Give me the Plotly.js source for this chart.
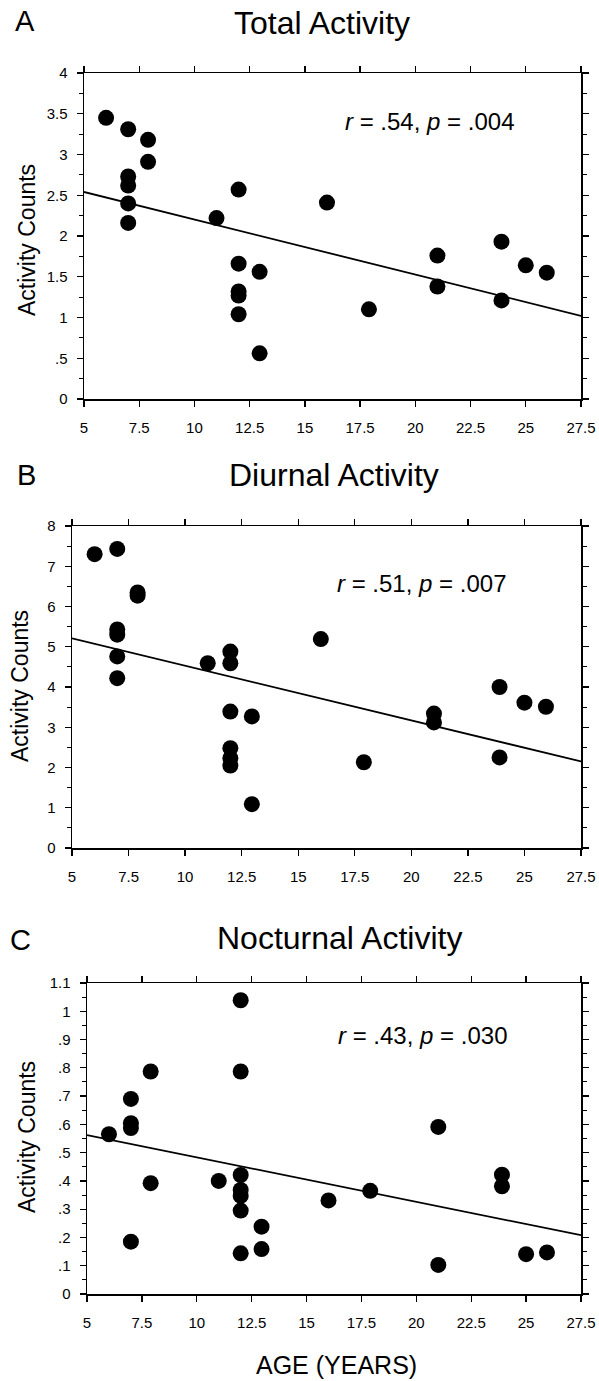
<!DOCTYPE html>
<html>
<head>
<meta charset="utf-8">
<script src="https://cdn.plot.ly/plotly-3.0.1.min.js"></script>
<style>
  html, body { margin: 0; padding: 0; background: #fff; }
  #chart { width: 599px; height: 1381px; }
</style>
</head>
<body>
<div id="chart"></div>
<script>
// ---------- data ----------
const agesA = [6, 7, 7, 7, 7, 7, 7.9, 7.9, 11, 12, 12, 12, 12, 12, 12.95, 12.95, 16, 17.9, 21, 21, 23.9, 23.9, 25, 25.95];
const totalActivity = [3.45, 3.31, 2.73, 2.62, 2.40, 2.16, 3.18, 2.91, 2.22, 2.57, 1.66, 1.32, 1.27, 1.04, 1.56, 0.56, 2.41, 1.10, 1.76, 1.38, 1.93, 1.21, 1.64, 1.55];

const agesB = [6, 7, 7, 7, 7, 7, 7.9, 7.9, 11, 12, 12, 12, 12, 12, 12, 12.95, 12.95, 16, 17.9, 21, 21, 23.9, 23.9, 25, 25.95];
const diurnalActivity = [7.30, 7.43, 5.43, 5.30, 4.76, 4.22, 6.35, 6.27, 4.59, 4.88, 4.59, 3.39, 2.48, 2.23, 2.05, 3.27, 1.09, 5.19, 2.13, 3.34, 3.12, 4.00, 2.25, 3.61, 3.51];

const agesC = [6, 7, 7, 7, 7, 7.9, 7.9, 11, 12, 12, 12, 12, 12, 12, 12, 12.95, 12.95, 16, 17.9, 21, 21, 23.9, 23.9, 25, 25.95];
const nocturnalActivity = [0.565, 0.69, 0.604, 0.587, 0.185, 0.787, 0.392, 0.40, 1.039, 0.787, 0.421, 0.368, 0.347, 0.295, 0.144, 0.238, 0.159, 0.331, 0.365, 0.591, 0.103, 0.422, 0.381, 0.141, 0.147];

// regression line end points (read at x = 5 and x = 27.5)
const fitX = [5, 27.5];
const fitA = [2.54, 1.02];
const fitB = [5.21, 2.15];
const fitC = [0.562, 0.208];

const panelTitles = ['Total Activity', 'Diurnal Activity', 'Nocturnal Activity'];
const panelLetters = ['A', 'B', 'C'];
const statsText = ['<i>r</i> = .54, <i>p</i> = .004', '<i>r</i> = .51, <i>p</i> = .007', '<i>r</i> = .43, <i>p</i> = .030'];

const xTickVals = [5, 7.5, 10, 12.5, 15, 17.5, 20, 22.5, 25, 27.5];
const xTickText = ['5', '7.5', '10', '12.5', '15', '17.5', '20', '22.5', '25', '27.5'];
const yTickValsA = [0, 0.5, 1, 1.5, 2, 2.5, 3, 3.5, 4];
const yTickTextA = ['0', '.5', '1', '1.5', '2', '2.5', '3', '3.5', '4'];
const yTickValsB = [0, 1, 2, 3, 4, 5, 6, 7, 8];
const yTickTextB = ['0', '1', '2', '3', '4', '5', '6', '7', '8'];
const yTickValsC = [0, 0.1, 0.2, 0.3, 0.4, 0.5, 0.6, 0.7, 0.8, 0.9, 1, 1.1];
const yTickTextC = ['0', '.1', '.2', '.3', '.4', '.5', '.6', '.7', '.8', '.9', '1', '1.1'];

// ---------- layout helpers (pixels -> paper) ----------
const W = 599, H = 1381;
const px = v => v / W;
const py = v => 1 - v / H;
const FONT = '"Liberation Sans", Arial, Helvetica, sans-serif';

function xAxis(left, right, anchor) {
  return {
    domain: [px(left), px(right)], anchor: anchor,
    range: [5, 27.5], tickmode: 'array', tickvals: xTickVals, ticktext: xTickText,
    showline: true, linecolor: '#000', linewidth: 1.5, mirror: 'ticks',
    ticks: 'outside', ticklen: 6, tickwidth: 1.3, tickcolor: '#000',
    ticklabelstandoff: 8,
    showgrid: false, zeroline: false, fixedrange: true,
    tickfont: { family: FONT, size: 15, color: '#000' }
  };
}
function yAxis(top, bottom, anchor, range, vals, text, minorStep) {
  return {
    domain: [py(bottom), py(top)], anchor: anchor,
    range: range, tickmode: 'array', tickvals: vals, ticktext: text,
    showline: true, linecolor: '#000', linewidth: 1.5, mirror: 'ticks',
    ticks: 'outside', ticklen: 6, tickwidth: 1.3, tickcolor: '#000',
    ticklabelstandoff: 6,
    minor: { tickmode: 'linear', tick0: 0, dtick: minorStep, ticks: 'outside', ticklen: 4, tickwidth: 1, tickcolor: '#000', showgrid: false },
    showgrid: false, zeroline: false, fixedrange: true,
    tickfont: { family: FONT, size: 15, color: '#000' }
  };
}

const marker = { color: '#000', size: 16, line: { width: 0 } };
const lineStyle = { color: '#000', width: 1.8 };

const traces = [
  { x: agesA, y: totalActivity, xaxis: 'x', yaxis: 'y', mode: 'markers', type: 'scatter', marker: marker, cliponaxis: false },
  { x: fitX, y: fitA, xaxis: 'x', yaxis: 'y', mode: 'lines', type: 'scatter', line: lineStyle },
  { x: agesB, y: diurnalActivity, xaxis: 'x2', yaxis: 'y2', mode: 'markers', type: 'scatter', marker: marker, cliponaxis: false },
  { x: fitX, y: fitB, xaxis: 'x2', yaxis: 'y2', mode: 'lines', type: 'scatter', line: lineStyle },
  { x: agesC, y: nocturnalActivity, xaxis: 'x3', yaxis: 'y3', mode: 'markers', type: 'scatter', marker: marker, cliponaxis: false },
  { x: fitX, y: fitC, xaxis: 'x3', yaxis: 'y3', mode: 'lines', type: 'scatter', line: lineStyle }
];

// panel boxes in pixels
const boxes = [
  { l: 84, r: 581, t: 73, b: 399 },
  { l: 72, r: 581, t: 526, b: 848 },
  { l: 87, r: 581, t: 983, b: 1294 }
];

const titlePos = [{ x: 322, y: 23 }, { x: 334, y: 475 }, { x: 340, y: 938 }];
const letterPos = [{ x: 25, y: 21 }, { x: 26, y: 475 }, { x: 20, y: 940 }];
const statsPos = [{ x: 429, y: 121 }, { x: 421, y: 583 }, { x: 422, y: 1035 }];
const yTitlePos = [{ x: 27, y: 240 }, { x: 20, y: 686 }, { x: 27, y: 1137 }];

const annotations = [];
for (let i = 0; i < 3; i++) {
  annotations.push({ xref: 'paper', yref: 'paper', x: px(titlePos[i].x), y: py(titlePos[i].y), xanchor: 'center', yanchor: 'middle', showarrow: false, text: panelTitles[i], font: { family: FONT, size: 32, color: '#000' } });
  annotations.push({ xref: 'paper', yref: 'paper', x: px(letterPos[i].x), y: py(letterPos[i].y), xanchor: 'center', yanchor: 'middle', showarrow: false, text: panelLetters[i], font: { family: FONT, size: 29, color: '#000' } });
  annotations.push({ xref: 'paper', yref: 'paper', x: px(statsPos[i].x), y: py(statsPos[i].y), xanchor: 'center', yanchor: 'middle', showarrow: false, text: statsText[i], font: { family: FONT, size: 24, color: '#000' } });
  annotations.push({ xref: 'paper', yref: 'paper', x: px(yTitlePos[i].x), y: py(yTitlePos[i].y), xanchor: 'center', yanchor: 'middle', showarrow: false, textangle: -90, text: 'Activity Counts', font: { family: FONT, size: 23, color: '#000' } });
}
annotations.push({ xref: 'paper', yref: 'paper', x: px(336), y: py(1365), xanchor: 'center', yanchor: 'middle', showarrow: false, text: 'AGE (YEARS)', font: { family: FONT, size: 25, color: '#000' } });

const layout = {
  width: W, height: H,
  margin: { l: 0, r: 0, t: 0, b: 0, pad: 0 },
  paper_bgcolor: '#fff', plot_bgcolor: '#fff',
  showlegend: false,
  font: { family: FONT, color: '#000' },
  xaxis: xAxis(boxes[0].l, boxes[0].r, 'y'),
  yaxis: yAxis(boxes[0].t, boxes[0].b, 'x', [0, 4], yTickValsA, yTickTextA, 0.25),
  xaxis2: xAxis(boxes[1].l, boxes[1].r, 'y2'),
  yaxis2: yAxis(boxes[1].t, boxes[1].b, 'x2', [0, 8], yTickValsB, yTickTextB, 0.5),
  xaxis3: xAxis(boxes[2].l, boxes[2].r, 'y3'),
  yaxis3: yAxis(boxes[2].t, boxes[2].b, 'x3', [0, 1.1], yTickValsC, yTickTextC, 0.05),
  annotations: annotations
};

Plotly.newPlot('chart', traces, layout, { staticPlot: true, displayModeBar: false });
</script>
</body>
</html>
